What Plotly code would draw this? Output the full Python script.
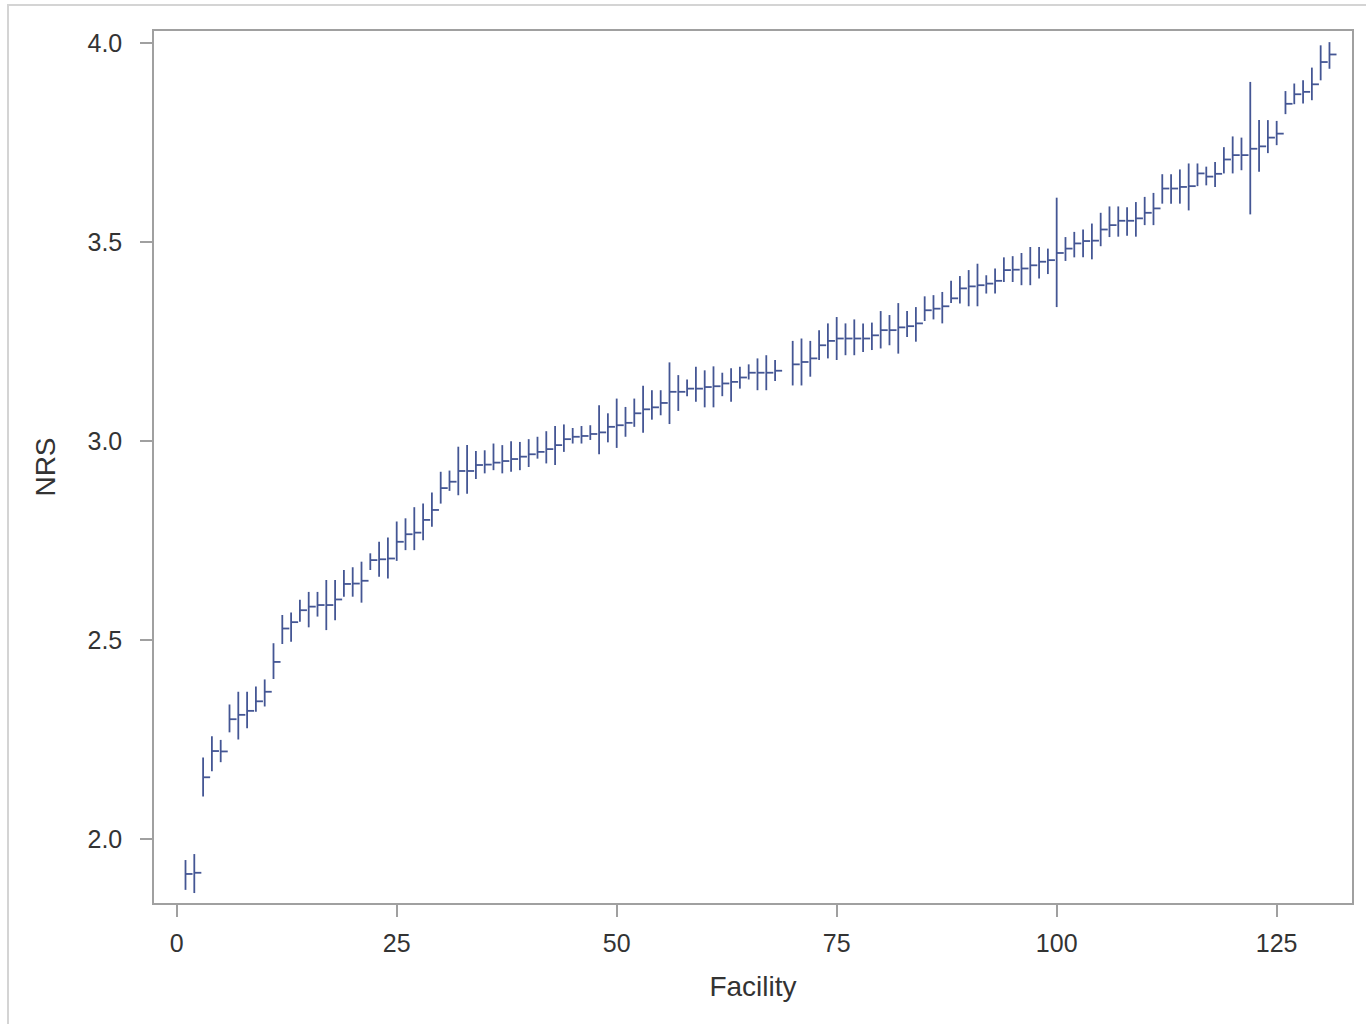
import plotly.graph_objects as go

facility = list(range(1, 132))

nrs_close = [1.912, 1.915, 2.155, 2.221, 2.220, 2.301, 2.312, 2.322, 2.346, 2.370,
             2.445, 2.529, 2.545, 2.575, 2.584, 2.588, 2.588, 2.602, 2.641, 2.642,
             2.649, 2.701, 2.703, 2.705, 2.747, 2.766, 2.770, 2.802, 2.827, 2.882,
             2.898, 2.925, 2.925, 2.940, 2.941, 2.946, 2.950, 2.955, 2.961, 2.967,
             2.973, 2.980, 2.990, 3.005, 3.011, 3.013, 3.018, 3.022, 3.036, 3.040,
             3.046, 3.070, 3.080, 3.085, 3.096, 3.124, 3.124, 3.132, 3.132, 3.136,
             3.138, 3.145, 3.149, 3.160, 3.172, 3.172, 3.172, 3.177, None, 3.193,
             3.199, 3.208, 3.241, 3.252, 3.258, 3.258, 3.258, 3.258, 3.266, 3.279,
             3.279, 3.286, 3.289, 3.296, 3.329, 3.333, 3.339, 3.359, 3.384, 3.389,
             3.392, 3.396, 3.403, 3.430, 3.431, 3.434, 3.442, 3.451, 3.455, 3.473,
             3.484, 3.497, 3.503, 3.504, 3.532, 3.543, 3.554, 3.554, 3.560, 3.574,
             3.585, 3.635, 3.635, 3.639, 3.641, 3.673, 3.665, 3.672, 3.708, 3.719,
             3.719, 3.735, 3.741, 3.763, 3.773, 3.848, 3.872, 3.878, 3.897, 3.953,
             3.972]

nrs_high = [1.947, 1.962, 2.205, 2.258, 2.249, 2.338, 2.370, 2.370, 2.383, 2.401,
            2.492, 2.563, 2.569, 2.601, 2.621, 2.621, 2.651, 2.651, 2.676, 2.683,
            2.697, 2.718, 2.747, 2.758, 2.798, 2.806, 2.834, 2.843, 2.871, 2.923,
            2.926, 2.986, 2.990, 2.975, 2.977, 2.994, 2.990, 3.000, 2.998, 3.005,
            3.011, 3.025, 3.038, 3.042, 3.033, 3.038, 3.040, 3.090, 3.070, 3.107,
            3.086, 3.107, 3.139, 3.128, 3.128, 3.198, 3.166, 3.155, 3.187, 3.178,
            3.188, 3.172, 3.183, 3.187, 3.193, 3.208, 3.216, 3.204, None, 3.252,
            3.258, 3.252, 3.279, 3.296, 3.312, 3.296, 3.306, 3.296, 3.298, 3.327,
            3.317, 3.347, 3.327, 3.337, 3.364, 3.367, 3.375, 3.403, 3.415, 3.430,
            3.446, 3.417, 3.434, 3.462, 3.465, 3.473, 3.488, 3.488, 3.484, 3.612,
            3.513, 3.526, 3.532, 3.547, 3.574, 3.590, 3.590, 3.588, 3.601, 3.614,
            3.624, 3.671, 3.671, 3.683, 3.698, 3.698, 3.690, 3.702, 3.739, 3.766,
            3.763, 3.903, 3.807, 3.807, 3.805, 3.880, 3.899, 3.907, 3.939, 3.995,
            4.003]

nrs_low = [1.872, 1.864, 2.107, 2.170, 2.193, 2.268, 2.250, 2.278, 2.320, 2.333,
           2.402, 2.490, 2.496, 2.546, 2.532, 2.559, 2.525, 2.550, 2.609, 2.609,
           2.594, 2.676, 2.659, 2.655, 2.699, 2.726, 2.726, 2.751, 2.785, 2.843,
           2.875, 2.864, 2.868, 2.905, 2.919, 2.927, 2.919, 2.923, 2.927, 2.935,
           2.956, 2.944, 2.940, 2.973, 2.994, 2.994, 3.003, 2.967, 2.997, 2.983,
           3.011, 3.036, 3.021, 3.054, 3.065, 3.043, 3.076, 3.113, 3.099, 3.085,
           3.085, 3.113, 3.099, 3.132, 3.155, 3.128, 3.128, 3.151, None, 3.140,
           3.140, 3.162, 3.204, 3.208, 3.204, 3.216, 3.216, 3.224, 3.229, 3.233,
           3.241, 3.220, 3.262, 3.250, 3.302, 3.306, 3.296, 3.347, 3.346, 3.339,
           3.339, 3.371, 3.371, 3.400, 3.400, 3.392, 3.392, 3.409, 3.420, 3.337,
           3.453, 3.462, 3.462, 3.457, 3.490, 3.513, 3.514, 3.516, 3.514, 3.543,
           3.543, 3.597, 3.597, 3.597, 3.580, 3.641, 3.643, 3.639, 3.673, 3.673,
           3.681, 3.570, 3.677, 3.724, 3.744, 3.822, 3.847, 3.849, 3.857, 3.907,
           3.936]

x_ticks = [0, 25, 50, 75, 100, 125]
y_ticks = [2.0, 2.5, 3.0, 3.5, 4.0]

LINE = "#445694"
TICK_LEN = 0.8

err_plus = [None if c is None else h - c for c, h in zip(nrs_close, nrs_high)]
err_minus = [None if c is None else c - l for c, l in zip(nrs_close, nrs_low)]

fig = go.Figure()
fig.add_trace(go.Scatter(
    x=facility, y=nrs_close, mode="markers",
    marker=dict(size=1, color="rgba(0,0,0,0)"),
    error_y=dict(type="data", symmetric=False, array=err_plus, arrayminus=err_minus,
                 color=LINE, thickness=1.8, width=0),
    error_x=dict(type="data", symmetric=False, array=[TICK_LEN] * len(facility),
                 arrayminus=[0] * len(facility), color=LINE, thickness=1.8, width=0),
    showlegend=False, hoverinfo="skip",
))

W, H = 1366, 1024
L, R, T, B = 154, 1352, 31, 903
pw, ph = R - L, B - T

fig.update_layout(
    width=W, height=H,
    margin=dict(l=L, r=W - R, t=T, b=H - B, pad=0),
    paper_bgcolor="white", plot_bgcolor="white",
    font=dict(family="Liberation Sans, Arial, sans-serif", color="#333333", size=25),
    xaxis=dict(range=[-2.58, 133.56], tickvals=x_ticks, ticktext=[str(v) for v in x_ticks],
               showgrid=False, zeroline=False, showline=True, mirror=True,
               linecolor="#a0a0a0", linewidth=1.5, ticks="outside", ticklen=12,
               tickcolor="#a0a0a0", tickwidth=1.5, ticklabelstandoff=5,
               tickfont=dict(size=25, color="#333333"),
               title=dict(text="Facility", font=dict(size=28, color="#333333"), standoff=21)),
    yaxis=dict(range=[1.839, 4.031], tickvals=y_ticks, ticktext=[f"{v:.1f}" for v in y_ticks],
               showgrid=False, zeroline=False, showline=True, mirror=True,
               linecolor="#a0a0a0", linewidth=1.5, ticks="outside", ticklen=12,
               tickcolor="#a0a0a0", tickwidth=1.5, ticklabelstandoff=13,
               tickfont=dict(size=25, color="#333333"),
               title=dict(text="NRS", font=dict(size=28, color="#333333"), standoff=24)),
    shapes=[dict(type="rect", xref="paper", yref="paper",
                 x0=(8 - L) / pw, x1=(W + 20 - L) / pw,
                 y0=(B - (H + 20)) / ph, y1=(B - 5) / ph,
                 line=dict(color="#d4d4d4", width=2), fillcolor="rgba(0,0,0,0)", layer="below")],
)

fig.write_html("out.html", config={"displayModeBar": False},
               post_script="document.body.style.margin='0';document.body.style.overflow='hidden';")
